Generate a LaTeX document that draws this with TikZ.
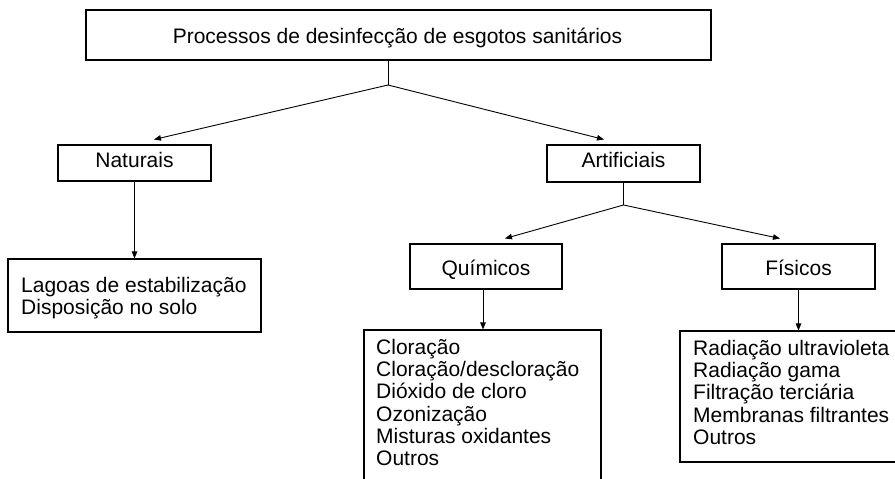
\documentclass[tikz,border=0pt]{standalone}
\usepackage{fontspec}
\setmainfont{Liberation Sans}
\usetikzlibrary{arrows.meta}
\begin{document}
\begin{tikzpicture}[x=1pt,y=-1pt,
  box/.style={draw, line width=1.1pt, inner sep=0pt, rectangle},
  lbl/.style={font=\fontsize{21}{22.3}\selectfont, inner sep=0pt, anchor=base},
  listtxt/.style={font=\fontsize{21}{22.3}\selectfont, inner sep=0pt, align=left, anchor=north west},
  arr/.style={line width=0.9pt, -{Triangle[length=7pt,width=5.5pt]}},
  ln/.style={line width=0.9pt}]
\useasboundingbox (0,0) rectangle (895,479);
\clip (0,0) rectangle (895,479);

% boxes
\node[box, minimum width=625pt, minimum height=50pt] (top) at (398.5,35) {};
\node[lbl] (ttop) at (397.5,43) {Processos de desinfecção de esgotos sanitários};

\node[box, minimum width=153pt, minimum height=36pt] (nat) at (134.5,163) {};
\node[lbl] (tnat) at (134.5,167) {Naturais};

\node[box, minimum width=153pt, minimum height=37pt] (art) at (623.5,163.5) {};
\node[lbl] (tart) at (623.5,167) {Artificiais};

\node[box, minimum width=152pt, minimum height=45pt] (qui) at (486,266.5) {};
\node[lbl] (tqui) at (486,275) {Químicos};

\node[box, minimum width=153pt, minimum height=45pt] (fis) at (798.5,266.5) {};
\node[lbl] (tfis) at (798.5,275) {Físicos};

\node[box, minimum width=253pt, minimum height=73pt] (lag) at (134.5,295.5) {};
\node[listtxt] (tlag) at (21,276) {\rule{0pt}{16pt}Lagoas de estabilização\\Disposição no solo};

\node[box, minimum width=237pt, minimum height=170pt] (ql) at (482.5,415) {};
\node[listtxt] (tql) at (376,338) {\rule{0pt}{16pt}Cloração\\Cloração/descloração\\Dióxido de cloro\\Ozonização\\Misturas oxidantes\\Outros};

\node[box, minimum width=240pt, minimum height=131pt] (fl) at (800,396.5) {};
\node[listtxt] (tfl) at (693,339) {\rule{0pt}{16pt}Radiação ultravioleta\\Radiação gama\\Filtração terciária\\Membranas filtrantes\\Outros};

% connectors
\coordinate (j1) at (388,85);
\coordinate (tn) at (154,139.5);
\coordinate (ta) at (604,139.5);
\draw[ln] (j1 |- top.south) -- (j1);
\draw[arr] (j1) -- (tn);
\draw[arr] (j1) -- (ta);

\draw[arr] (nat.south) -- (lag.north);

\coordinate (j2) at (623.5,205);
\coordinate (tq) at (505,238.5);
\coordinate (tf) at (780,238.5);
\draw[ln] (art.south) -- (j2);
\draw[arr] (j2) -- (tq);
\draw[arr] (j2) -- (tf);

\draw[arr] ([xshift=-3pt]qui.south) -- ([xshift=-3pt]qui.south |- ql.north);
\draw[arr] (fis.south) -- (fis.south |- fl.north);
\end{tikzpicture}
\end{document}
